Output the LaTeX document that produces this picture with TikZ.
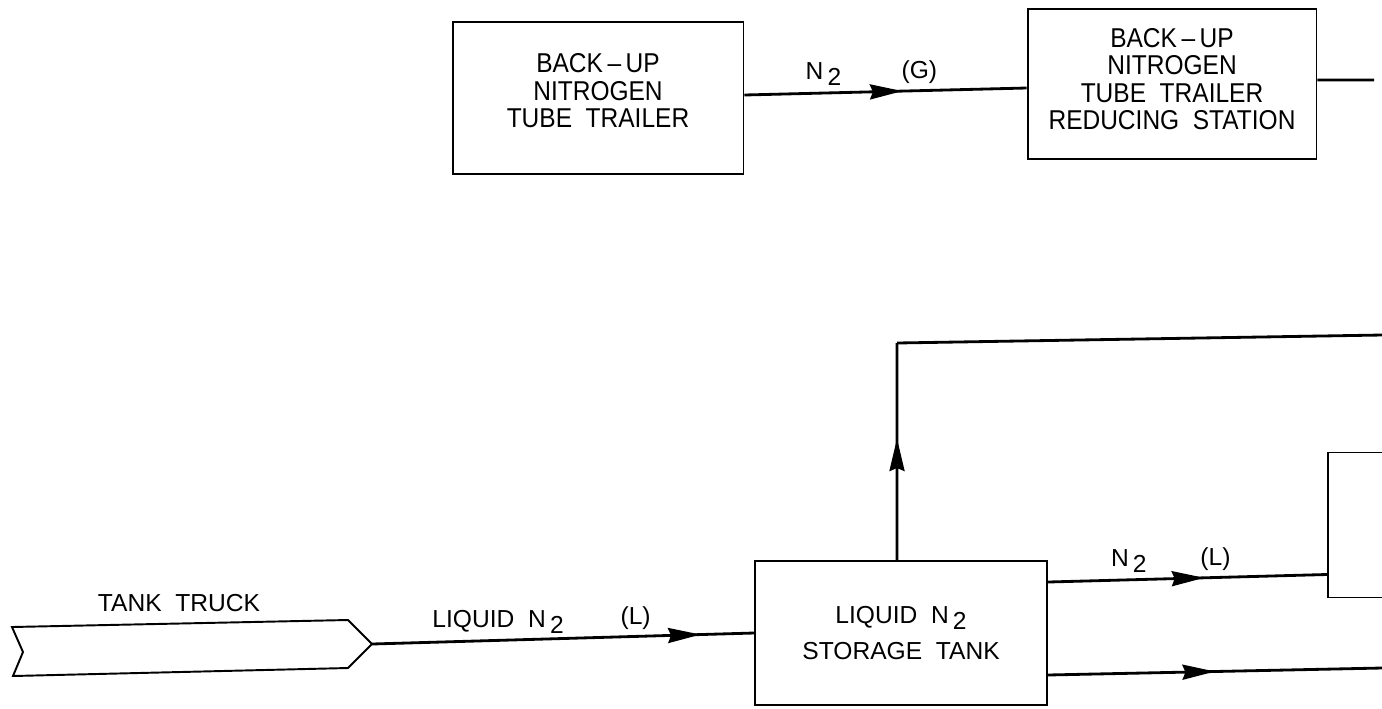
\documentclass[tikz,border=0pt]{standalone}
\usepackage{fontspec}
\setmainfont{Liberation Sans}[WordSpace=2]
\usetikzlibrary{arrows.meta,decorations.markings}

\newcommand{\ntwo}{N\,\raisebox{-0.45ex}{2}}

\tikzset{
  box/.style={draw, line width=1.1pt, inner sep=0pt},
  boxtext/.style={align=center, font=\fontsize{15.5}{15.6}\selectfont\addfontfeature{FakeStretch=0.9}},
  flow/.style={line width=1.6pt},
  midarrow/.style={postaction={decorate},
    decoration={markings, mark=at position #1 with {\arrow{Stealth[length=6.5mm,width=3mm,inset=0.6mm]}}}},
}

\begin{document}
\begin{tikzpicture}[x=0.02cm, y=-0.02cm, >=Stealth, font=\fontsize{14}{14.5}\selectfont]
\useasboundingbox (0,0) rectangle (1382,708);
\clip (0,0) rectangle (1382,708);

% back-up supply
\node (trailer) [box, minimum width=5.82cm, minimum height=3.04cm] at (598,98) {};
\node [boxtext] at (598,91) {BACK\,--\,UP\\NITROGEN\\TUBE TRAILER};
\node (reducing) [box, minimum width=5.78cm, minimum height=3cm] at (1172,84) {};
\node [boxtext] at (1172,79) {BACK\,--\,UP\\NITROGEN\\TUBE TRAILER\\REDUCING STATION};
\coordinate (redout) at (1374,80);

\draw[flow, midarrow=0.56] ([yshift=0.06cm]trailer.east) -- ([yshift=-0.08cm]reducing.west)
  node[pos=0.28, above] {\ntwo} node[pos=0.62, above] {(G)};
\draw[flow] ([yshift=0.08cm]reducing.east) -- (redout);

% liquid supply
\draw[line width=1.1pt] (12,627) -- (348,620) -- (372,644) -- (348,668) -- (13,676) -- (23,652) -- cycle;
\coordinate (truck) at (372,644);
\node at (179,603) {TANK TRUCK};

\node (storage) [box, minimum width=5.84cm, minimum height=2.88cm, align=center] at (901,633)
  {LIQUID \ntwo\\[6pt]STORAGE TANK};
\node (user) [box, minimum width=3cm, minimum height=2.9cm] at (1403,525) {};

\draw[flow, midarrow=0.86] (truck) -- (storage.west)
  node[pos=0.33, above] {LIQUID \ntwo} node[pos=0.69, above] {(L)};

\coordinate (corner) at (897,343);
\coordinate (topout) at (1382,335);
\draw[flow, midarrow=0.56] ([xshift=-0.08cm]storage.north) -- (corner);
\draw[flow] (corner) -- (topout);

\draw[flow, midarrow=0.56] ([yshift=1.02cm]storage.east) -- ([yshift=-0.99cm]user.west)
  node[pos=0.29, above] {\ntwo} node[pos=0.6, above] {(L)};

\coordinate (lowout) at (1382,668);
\draw[flow, midarrow=0.5] ([yshift=-0.84cm]storage.east) -- (lowout);
\end{tikzpicture}
\end{document}
